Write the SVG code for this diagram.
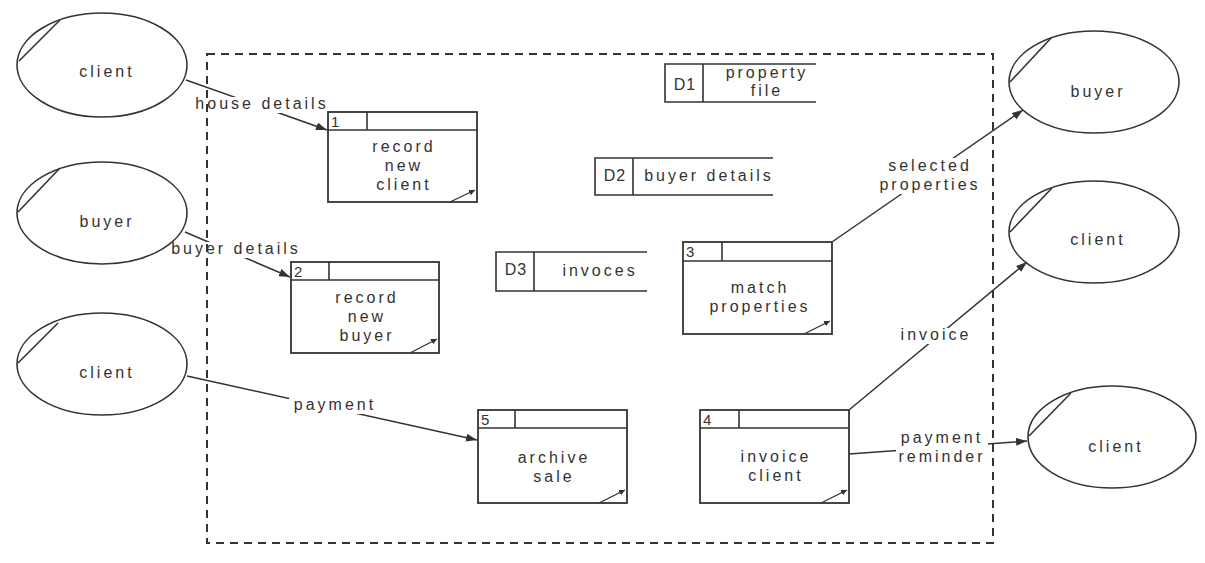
<svg xmlns="http://www.w3.org/2000/svg" width="1205" height="563" viewBox="0 0 1205 563">
<style>
  .ent { fill: none; stroke: #333; stroke-width: 1.6; }
  .box { fill: #fff; stroke: #333; stroke-width: 1.8; }
  .ln { stroke: #333; stroke-width: 1.6; fill: none; }
  .flow { stroke: #333; stroke-width: 1.5; fill: none; marker-end: url(#arr); }
  .corner { stroke: #333; stroke-width: 1.3; fill: none; marker-end: url(#tri); }
  .gap { fill: #fff; stroke: none; }
  text { font-family: "Liberation Sans", Arial, sans-serif; font-size: 16px; fill: #333; letter-spacing: 3px; }
  .c { text-anchor: middle; }
  .num { font-size: 15px; letter-spacing: 0; }
  .bound { fill: none; stroke: #333; stroke-width: 2; stroke-dasharray: 8 6; }
</style>
<defs>
  <marker id="arr" markerUnits="userSpaceOnUse" markerWidth="12" markerHeight="10" refX="11" refY="4" orient="auto">
    <path d="M0,0 L11,4 L0,8 z" fill="#333"/>
  </marker>
  <marker id="tri" markerUnits="userSpaceOnUse" markerWidth="8" markerHeight="8" refX="6" refY="3" orient="auto">
    <path d="M0,0 L6,3 L0,6 z" fill="#333"/>
  </marker>
</defs>
<rect width="1205" height="563" fill="#fff"/>

<g id="connectors">
  <line class="flow" x1="186" y1="80" x2="327" y2="130"/>
  <line class="flow" x1="185" y1="232" x2="290" y2="277"/>
  <line class="flow" x1="187" y1="376" x2="477" y2="440"/>
  <line class="flow" x1="832" y1="242" x2="1023" y2="110"/>
  <line class="flow" x1="849" y1="410" x2="1027" y2="262"/>
  <line class="flow" x1="849" y1="454" x2="1027" y2="441"/>
  <rect class="gap" x="190" y="97" width="145" height="16"/>
  <rect class="gap" x="167" y="242" width="137" height="16"/>
  <rect class="gap" x="289" y="398" width="92" height="16"/>
  <rect class="gap" x="880" y="158" width="100" height="36"/>
  <rect class="gap" x="899" y="328" width="74" height="16"/>
  <rect class="gap" x="896" y="430" width="92" height="35"/>
  <text class="c" x="262" y="109">house details</text>
  <text class="c" x="236" y="254">buyer details</text>
  <text class="c" x="335" y="410">payment</text>
  <text class="c" x="930" y="171">selected</text>
  <text class="c" x="930" y="190">properties</text>
  <text class="c" x="936" y="340">invoice</text>
  <text class="c" x="942" y="443">payment</text>
  <text class="c" x="942" y="462">reminder</text>
</g>

<g id="ent-client-1">
  <ellipse class="ent" cx="102" cy="65" rx="85" ry="52"/>
  <line class="ln" x1="19" y1="61" x2="60" y2="20"/>
  <text class="c" x="107" y="77">client</text>
</g>
<g id="ent-buyer-1">
  <ellipse class="ent" cx="102" cy="213" rx="85" ry="51"/>
  <line class="ln" x1="18" y1="212" x2="60" y2="168"/>
  <text class="c" x="107" y="227">buyer</text>
</g>
<g id="ent-client-2">
  <ellipse class="ent" cx="102" cy="364" rx="85" ry="51"/>
  <line class="ln" x1="18" y1="363" x2="58" y2="323"/>
  <text class="c" x="107" y="378">client</text>
</g>
<g id="ent-buyer-2">
  <ellipse class="ent" cx="1094" cy="82" rx="85" ry="51"/>
  <line class="ln" x1="1010" y1="82" x2="1052" y2="37"/>
  <text class="c" x="1098" y="97">buyer</text>
</g>
<g id="ent-client-3">
  <ellipse class="ent" cx="1094" cy="232" rx="85" ry="51"/>
  <line class="ln" x1="1010" y1="232" x2="1052" y2="188"/>
  <text class="c" x="1098" y="245">client</text>
</g>
<g id="ent-client-4">
  <ellipse class="ent" cx="1112" cy="437" rx="84" ry="51"/>
  <line class="ln" x1="1029" y1="436" x2="1071" y2="393"/>
  <text class="c" x="1116" y="452">client</text>
</g>

<g id="proc-1">
  <rect class="box" x="328" y="112" width="149" height="90"/>
  <line class="ln" x1="328" y1="130" x2="477" y2="130"/>
  <line class="ln" x1="367" y1="112" x2="367" y2="130"/>
  <text class="num" x="331" y="127">1</text>
  <text class="c" x="404" y="152">record</text>
  <text class="c" x="404" y="171">new</text>
  <text class="c" x="404" y="190">client</text>
  <line class="corner" x1="450" y1="202" x2="475" y2="190"/>
</g>
<g id="proc-2">
  <rect class="box" x="291" y="262" width="148" height="91"/>
  <line class="ln" x1="291" y1="280" x2="439" y2="280"/>
  <line class="ln" x1="329" y1="262" x2="329" y2="280"/>
  <text class="num" x="294" y="277">2</text>
  <text class="c" x="367" y="303">record</text>
  <text class="c" x="367" y="322">new</text>
  <text class="c" x="367" y="341">buyer</text>
  <line class="corner" x1="410" y1="353" x2="437" y2="339"/>
</g>
<g id="proc-5">
  <rect class="box" x="478" y="410" width="149" height="93"/>
  <line class="ln" x1="478" y1="428" x2="627" y2="428"/>
  <line class="ln" x1="515" y1="410" x2="515" y2="428"/>
  <text class="num" x="481" y="425">5</text>
  <text class="c" x="554" y="463">archive</text>
  <text class="c" x="554" y="482">sale</text>
  <line class="corner" x1="599" y1="503" x2="625" y2="490"/>
</g>
<g id="proc-3">
  <rect class="box" x="683" y="242" width="149" height="92"/>
  <line class="ln" x1="683" y1="261" x2="832" y2="261"/>
  <line class="ln" x1="722" y1="242" x2="722" y2="261"/>
  <text class="num" x="686" y="257">3</text>
  <text class="c" x="760" y="293">match</text>
  <text class="c" x="760" y="312">properties</text>
  <line class="corner" x1="804" y1="334" x2="830" y2="321"/>
</g>
<g id="proc-4">
  <rect class="box" x="700" y="410" width="149" height="93"/>
  <line class="ln" x1="700" y1="428" x2="849" y2="428"/>
  <line class="ln" x1="739" y1="410" x2="739" y2="428"/>
  <text class="num" x="703" y="425">4</text>
  <text class="c" x="776" y="462">invoice</text>
  <text class="c" x="776" y="481">client</text>
  <line class="corner" x1="821" y1="503" x2="847" y2="490"/>
</g>

<g id="store-d1">
  <path class="ln" d="M816,64 H665 V102 H816 M703,64 V102"/>
  <text class="c" x="685" y="90" style="letter-spacing:1px">D1</text>
  <text class="c" x="767" y="78">property</text>
  <text class="c" x="767" y="96">file</text>
</g>
<g id="store-d2">
  <path class="ln" d="M773,158 H595 V195 H773 M633,158 V195"/>
  <text class="c" x="615" y="181" style="letter-spacing:1px">D2</text>
  <text class="c" x="709" y="181">buyer details</text>
</g>
<g id="store-d3">
  <path class="ln" d="M647,252 H496 V291 H647 M534,252 V291"/>
  <text class="c" x="516" y="275" style="letter-spacing:1px">D3</text>
  <text class="c" x="600" y="276">invoces</text>
</g>

<rect id="boundary" class="bound" x="207" y="54" width="786" height="489"/>
</svg>
